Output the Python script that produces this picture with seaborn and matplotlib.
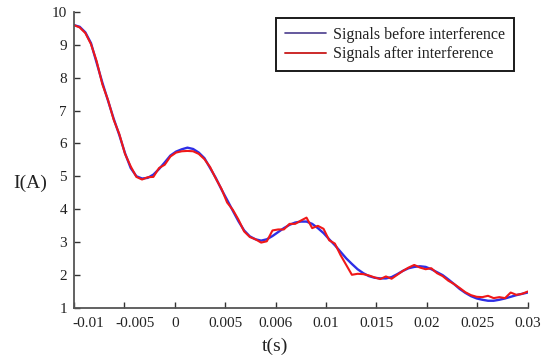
import numpy as np
import pandas as pd
import seaborn as sns
import matplotlib
matplotlib.use("Agg")
import matplotlib.pyplot as plt
from matplotlib.lines import Line2D
from matplotlib.transforms import ScaledTranslation

# Tick labels along the time axis (evenly spaced positions)
tick_labels = ["-0.01", "-0.005", "0", "0.005", "0.006", "0.01",
               "0.015", "0.02", "0.025", "0.03"]

# Sample positions along the time axis, in tick-spacing units
pos = np.linspace(0, 9, 81)

# Current before interference
before = [9.60, 9.55, 9.38, 9.05, 8.45, 7.85, 7.30, 6.75, 6.25, 5.70,
          5.25, 5.00, 4.93, 4.95, 5.05, 5.22, 5.42, 5.63, 5.75, 5.82,
          5.87, 5.83, 5.72, 5.55, 5.25, 4.95, 4.60, 4.28, 3.95, 3.63,
          3.35, 3.17, 3.08, 3.04, 3.08, 3.18, 3.30, 3.42, 3.52, 3.59,
          3.62, 3.62, 3.55, 3.42, 3.27, 3.08, 2.90, 2.70, 2.50, 2.33,
          2.17, 2.05, 1.96, 1.91, 1.89, 1.89, 1.93, 2.02, 2.12, 2.20,
          2.24, 2.26, 2.24, 2.17, 2.08, 1.99, 1.86, 1.72, 1.57, 1.45,
          1.35, 1.28, 1.24, 1.21, 1.21, 1.24, 1.28, 1.33, 1.38, 1.42,
          1.46]

# Current after interference
after = [9.60, 9.53, 9.36, 9.02, 8.50, 7.80, 7.32, 6.72, 6.28, 5.68,
         5.30, 4.98, 4.90, 4.97, 4.98, 5.25, 5.35, 5.60, 5.72, 5.76,
         5.77, 5.76, 5.68, 5.52, 5.28, 4.93, 4.62, 4.20, 3.98, 3.68,
         3.32, 3.15, 3.08, 2.98, 3.02, 3.35, 3.38, 3.38, 3.55, 3.55,
         3.65, 3.74, 3.42, 3.49, 3.40, 3.05, 2.95, 2.60, 2.30, 2.00,
         2.03, 2.02, 1.98, 1.92, 1.87, 1.95, 1.88, 2.00, 2.12, 2.22,
         2.30, 2.22, 2.17, 2.20, 2.05, 1.96, 1.82, 1.72, 1.60, 1.47,
         1.38, 1.33, 1.32, 1.36, 1.29, 1.32, 1.29, 1.46, 1.39, 1.42,
         1.49]

df = pd.DataFrame({"pos": pos, "before": before, "after": after})

sns.set_theme(style="white")
plt.rcParams["font.family"] = ["Liberation Serif", "DejaVu Serif"]

fig = plt.figure(figsize=(5.46, 3.63), dpi=100)
ax = fig.add_axes([0.1355, 0.1525, 0.831, 0.8145])

blue = "#2e2ee6"
red = "#f01818"
sns.lineplot(data=df, x="pos", y="before", color=blue, lw=1.7, ax=ax)
sns.lineplot(data=df, x="pos", y="after", color=red, lw=1.5, ax=ax)

ax.set_xlim(0, 9)
ax.set_ylim(1, 10)
ax.set_xticks(range(len(tick_labels)))
ax.set_xticklabels(tick_labels)
ax.set_yticks(range(1, 11))

for side in ("top", "right"):
    ax.spines[side].set_visible(False)
for side in ("left", "bottom"):
    ax.spines[side].set_color("#555555")
    ax.spines[side].set_linewidth(1.3)

ax.tick_params(axis="both", direction="in", length=4, width=1.0,
               color="#333333", labelsize=11, labelcolor="#222222")
ax.tick_params(axis="x", pad=7, bottom=True)
ax.tick_params(axis="y", pad=5, left=True)

# Negative labels sit a little to the right of their ticks
offsets = {"-0.01": 14, "-0.005": 11}
for lbl in ax.get_xticklabels():
    dx = offsets.get(lbl.get_text())
    if dx:
        lbl.set_transform(lbl.get_transform() +
                          ScaledTranslation(dx / 100, 0, fig.dpi_scale_trans))

ax.set_xlabel("t(s)", fontsize=14, color="#222222")
ax.set_ylabel("I(A)", fontsize=14, rotation=0, color="#222222", va="center")
ax.xaxis.set_label_coords(0.443, -0.100)
ax.yaxis.set_label_coords(-0.097, 0.42)

handles = [Line2D([], [], color="#4a3c8c", lw=1.2),
           Line2D([], [], color="#cc2a2a", lw=1.4)]
leg = ax.legend(handles, ["Signals before interference",
                          "Signals after interference"],
                loc="upper right", bbox_to_anchor=(0.970, 0.980),
                borderaxespad=0, fontsize=11.5, frameon=True, fancybox=False,
                framealpha=1, edgecolor="#1a1a1a", handlelength=2.6,
                handletextpad=0.45, labelspacing=0.22, borderpad=0.55)
leg.get_frame().set_linewidth(1.4)
for t in leg.get_texts():
    t.set_color("#222222")

fig.savefig("out.png", dpi=100)
